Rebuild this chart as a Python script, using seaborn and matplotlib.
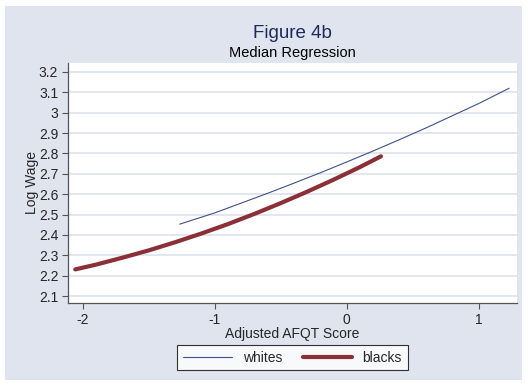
import seaborn as sns
import matplotlib
matplotlib.use("Agg")
import matplotlib.pyplot as plt
from matplotlib.patches import Rectangle
import pandas as pd

# values
white_x = [-1.264, -1.0, -0.8, -0.6, -0.4, -0.2, 0.0, 0.2, 0.4, 0.6, 0.8, 1.0, 1.23]
white_y = [2.453, 2.508, 2.556, 2.604, 2.654, 2.705, 2.758, 2.812, 2.868, 2.925, 2.985, 3.045, 3.12]
black_x = [-2.055, -1.9, -1.7, -1.5, -1.3, -1.1, -0.9, -0.7, -0.5, -0.3, -0.1, 0.1, 0.26]
black_y = [2.231, 2.254, 2.288, 2.324, 2.364, 2.407, 2.453, 2.503, 2.556, 2.612, 2.671, 2.733, 2.786]

y_ticks = [2.1, 2.2, 2.3, 2.4, 2.5, 2.6, 2.7, 2.8, 2.9, 3.0, 3.1, 3.2]
y_ticklabels = ["2.1", "2.2", "2.3", "2.4", "2.5", "2.6", "2.7", "2.8", "2.9", "3", "3.1", "3.2"]
x_ticks = [-2, -1, 0, 1]

bg = "#dfe4ee"
grid_color = "#dde3ec"
navy = "#40508a"
maroon = "#8b3036"

df_white = pd.DataFrame({"x": white_x, "y": white_y})
df_black = pd.DataFrame({"x": black_x, "y": black_y})

sns.set_style("white")
plt.rcParams["font.family"] = ["Liberation Sans", "DejaVu Sans"]

fig = plt.figure(figsize=(5.27, 3.85), dpi=100)
fig.patch.set_facecolor("white")
fig.patches.append(Rectangle((5 / 527, 5 / 385), 517 / 527, 374 / 385,
                             transform=fig.transFigure, facecolor=bg,
                             edgecolor="none", zorder=-10))

ax = fig.add_axes([68 / 527, 1 - 303 / 385, 449 / 527, 240 / 385])
ax.set_facecolor("white")

sns.lineplot(data=df_white, x="x", y="y", color=navy, linewidth=0.8,
             label="whites", ax=ax, sort=False)
sns.lineplot(data=df_black, x="x", y="y", color=maroon, linewidth=3,
             label="blacks", ax=ax, sort=False)

ax.set_xlim(-2.11, 1.29)
ax.set_ylim(2.066, 3.244)
ax.set_yticks(y_ticks)
ax.set_yticklabels(y_ticklabels)
ax.set_xticks(x_ticks)
ax.set_xticklabels(["-2", "-1", "0", "1"])
ax.yaxis.grid(True, color=grid_color, linewidth=1.2)
ax.xaxis.grid(False)
ax.set_axisbelow(True)

for side in ["top", "right"]:
    ax.spines[side].set_visible(False)
for side in ["left", "bottom"]:
    ax.spines[side].set_color("#555555")
    ax.spines[side].set_linewidth(0.9)
ax.tick_params(axis="both", direction="out", length=4, width=0.8,
               color="#555555", labelsize=10, pad=3, left=True, bottom=True)

ax.set_xlabel("Adjusted AFQT Score", fontsize=10, labelpad=0)
ax.set_ylabel("Log Wage", fontsize=10, labelpad=0)

fig.text(0.5555, 1 - 34 / 385, "Figure 4b", ha="center", va="center",
         fontsize=13.5, color="#1e2a5a")
fig.text(0.5555, 1 - 53 / 385, "Median Regression", ha="center", va="center",
         fontsize=10.5, color="black")

leg = ax.legend(loc="upper center", bbox_to_anchor=(0.5, -0.175), ncol=2,
                frameon=True, fancybox=False, edgecolor="black",
                fontsize=10, handlelength=3.5, columnspacing=1.5,
                handletextpad=0.8, borderpad=0.4, borderaxespad=0)
leg.get_frame().set_linewidth(0.8)

fig.savefig("out.png", dpi=100)
